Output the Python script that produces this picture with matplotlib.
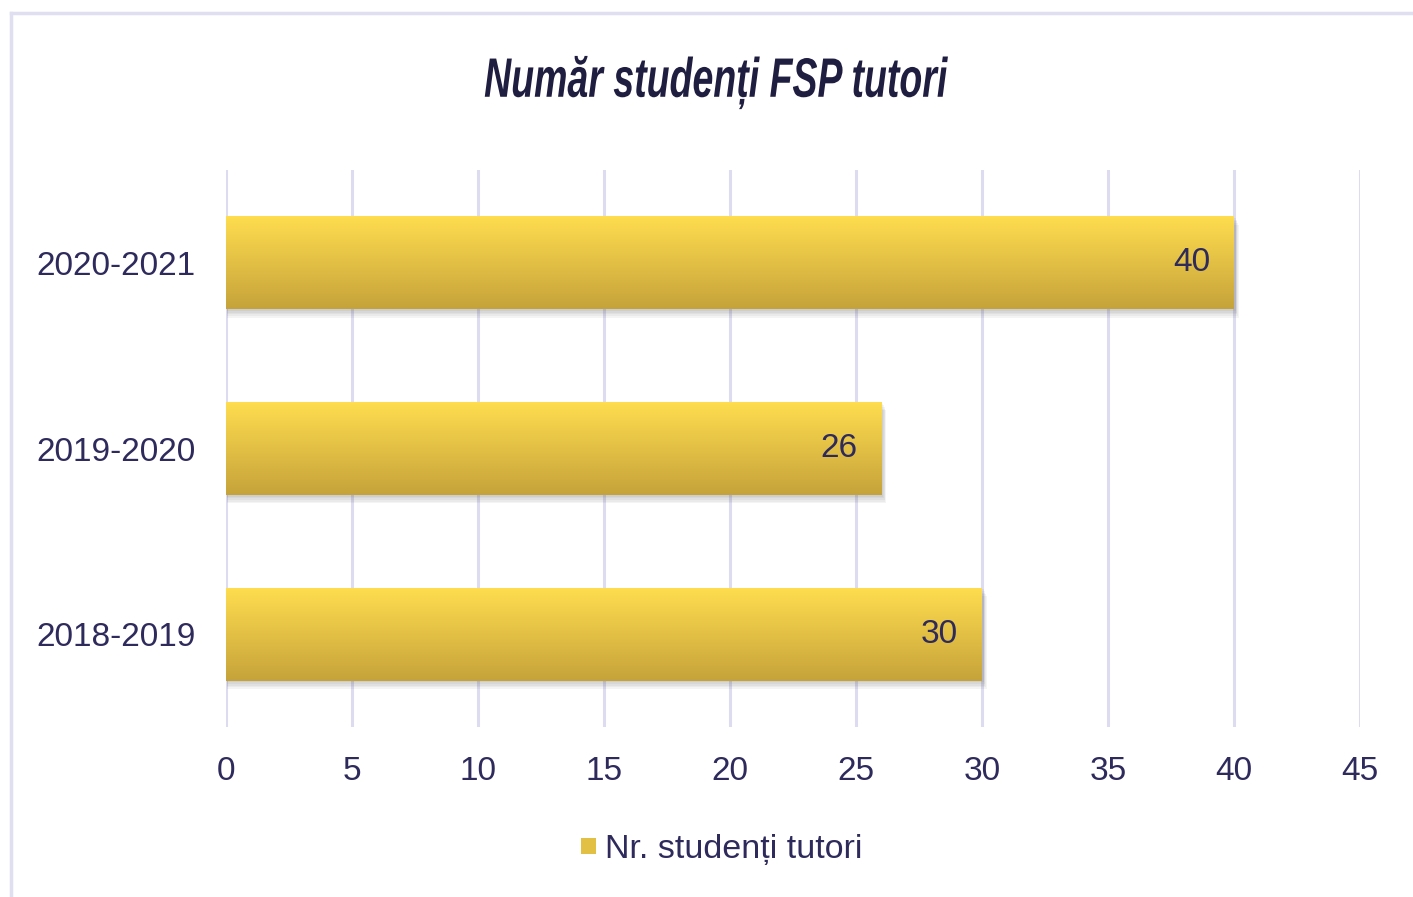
import numpy as np
import matplotlib.pyplot as plt
from matplotlib.patches import Rectangle
from matplotlib.lines import Line2D
from matplotlib.legend_handler import HandlerPatch
from matplotlib.patheffects import AbstractPathEffect
from matplotlib.transforms import Affine2D

# Data
years = ['2018-2019', '2019-2020', '2020-2021']
tutors = [30, 26, 40]
x_ticks = [0, 5, 10, 15, 20, 25, 30, 35, 40, 45]

text_col = '#2e2a5c'
grid_col = '#dcdbef'
top_col = np.array([0xff, 0xdd, 0x4f]) / 255
bot_col = np.array([0xc6, 0xa3, 0x3a]) / 255

plt.rcParams['font.family'] = ['Liberation Sans', 'DejaVu Sans']


class Narrow(AbstractPathEffect):
    # squeeze text horizontally about its centre (condensed look for the title)
    def __init__(self, sx):
        super().__init__()
        self.sx = sx

    def draw_path(self, renderer, gc, tpath, affine, rgbFace=None):
        ext = tpath.get_extents()
        cx = affine.transform(((ext.x0 + ext.x1) / 2, 0))[0]
        squeeze = Affine2D().translate(-cx, 0).scale(self.sx, 1).translate(cx, 0)
        renderer.draw_path(gc, tpath, affine + squeeze, rgbFace)


fig = plt.figure(figsize=(14.13, 8.97), dpi=100)
ax = fig.add_axes([0.1599, 0.1895, 0.8025, 0.621])

# vertical gradient image (top light -> bottom dark)
t = np.linspace(0, 1, 256)[:, None]
grad = top_col * (1 - t[..., None]) + bot_col * t[..., None]
grad = np.repeat(grad, 2, axis=1)

bars = ax.barh(years, tutors, height=0.5, color='none', edgecolor='none', zorder=3)

for b, v in zip(bars, tutors):
    x0, y0 = b.get_x(), b.get_y()
    w, h = b.get_width(), b.get_height()
    # soft shadow under the bar
    for k in range(5):
        off = 0.009 * (k + 1)
        ax.add_patch(Rectangle((x0 + 0.05, y0 - off), w + 0.03 * (k + 1), h,
                               facecolor='#444444', alpha=0.055, edgecolor='none', zorder=2))
    im = ax.imshow(grad, extent=[x0, x0 + w, y0, y0 + h], origin='upper',
                   aspect='auto', zorder=4, interpolation='bilinear')
    clip = Rectangle((x0, y0), w, h, transform=ax.transData, facecolor='none', edgecolor='none')
    ax.add_patch(clip)
    im.set_clip_path(clip)
    ax.annotate(str(v), xy=(x0 + w, y0 + h / 2), xytext=(-17, 0), textcoords='offset points',
                ha='right', va='center', fontsize=24, color=text_col, zorder=5)

ax.set_xlim(0, 45)
ax.set_ylim(-0.5, 2.5)
ax.set_xticks(x_ticks)
ax.xaxis.grid(True, color=grid_col, linewidth=2.2, zorder=0)
ax.set_axisbelow(True)
for s in ax.spines.values():
    s.set_visible(False)
ax.tick_params(axis='both', length=0, labelsize=24, labelcolor=text_col)
ax.tick_params(axis='x', pad=21)
ax.tick_params(axis='y', pad=22)

fig.text(0.506, 0.908, 'Număr studenți FSP tutori', ha='center', va='center',
         fontsize=40, color='#1f1d40', style='italic', fontweight='bold',
         path_effects=[Narrow(0.675)])


class GradHandler(HandlerPatch):
    def create_artists(self, legend, orig_handle, xd, yd, w, h, fontsize, trans):
        sz = 11
        r = Rectangle((xd + w - sz, yd + (h - sz) / 2), sz, sz, facecolor='#e2c044',
                      edgecolor='none', transform=trans)
        return [r]


handle = Rectangle((0, 0), 1, 1, facecolor='#e2c044')
fig.legend([handle], ['Nr. studenți tutori'], loc='center', bbox_to_anchor=(0.51, 0.053),
           frameon=False, fontsize=24.5, labelcolor=text_col, handlelength=0.5,
           handletextpad=0.25, handler_map={Rectangle: GradHandler()})

# outer frame
fig.add_artist(Line2D([0.0078, 0.0078], [0.0, 0.986], color='#e0dff2', linewidth=2.5))
fig.add_artist(Line2D([0.0078, 1.0], [0.986, 0.986], color='#e0dff2', linewidth=2.5))

fig.savefig('out.png', dpi=100)
